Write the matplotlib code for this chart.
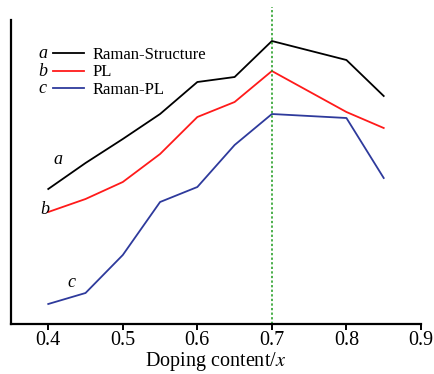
import matplotlib
matplotlib.use("Agg")
import matplotlib.pyplot as plt
from matplotlib.lines import Line2D

plt.rcParams['font.family'] = ['Liberation Serif', 'DejaVu Serif']
plt.rcParams['mathtext.fontset'] = 'stix'

# Doping content and relative signal (arbitrary units)
doping = [0.4, 0.45, 0.5, 0.55, 0.6, 0.65, 0.7, 0.8, 0.85]
raman_structure = [135, 161, 185, 210, 242, 247, 283, 264, 228]
pl = [112, 125, 142, 170, 207, 222, 253, 212, 196]
raman_pl = [20, 31, 69, 122, 137, 179, 210, 206, 146]

series_names = ["Raman-Structure", "PL", "Raman-PL"]
series_letters = ["a", "b", "c"]
series_colors = ["#000000", "#ff1a1a", "#2e3a9c"]
x_ticks = [0.4, 0.5, 0.6, 0.7, 0.8, 0.9]
peak_x = 0.7

fig = plt.figure(figsize=(4.34, 3.74), dpi=100)
ax = fig.add_axes([0.0253, 0.1337, 0.9447, 0.8128])

for vals, col in zip([raman_structure, pl, raman_pl], series_colors):
    ax.plot(doping, vals, color=col, lw=1.3)

ax.axvline(peak_x, ymin=0, ymax=1.043, color="#1a9a1a", lw=1.1,
           ls=(0, (1.5, 1.5)), clip_on=False)

ax.set_xlim(0.35, 0.9)
ax.set_ylim(0, 304)
ax.set_xticks(x_ticks)
ax.set_xticklabels([f"{t:.1f}" for t in x_ticks])
ax.set_yticks([])
for s in ["top", "right"]:
    ax.spines[s].set_visible(False)
for s in ["left", "bottom"]:
    ax.spines[s].set_linewidth(1.6)
ax.tick_params(axis="x", direction="out", length=4, width=1.4,
               labelsize=14.5, pad=1)
ax.set_xlabel("Doping content/$\\mathit{x}$", fontsize=14.5, labelpad=0)

# curve letters next to the lines
ax.text(0.4 + 0.0125, 165, "a", style="italic", fontsize=13,
        ha="center", va="center")
ax.text(0.4 - 0.005, 115, "b", style="italic", fontsize=13,
        ha="center", va="center")
ax.text(0.4 + 0.031, 41, "c", style="italic", fontsize=13,
        ha="center", va="center")

handles = [Line2D([], [], color=c, lw=1.3) for c in series_colors]
leg = ax.legend(handles, series_names, loc="upper left",
                bbox_to_anchor=(0.102, 0.912), frameon=False, fontsize=12,
                handlelength=1.9, handletextpad=0.48, labelspacing=0.1,
                borderpad=0, borderaxespad=0)

# legend letters
for i, letter in enumerate(series_letters):
    ax.text(0.0775, 0.89 - i * 0.058, letter, style="italic", fontsize=13,
            ha="center", va="center", transform=ax.transAxes)

fig.savefig("out.png", dpi=100)
